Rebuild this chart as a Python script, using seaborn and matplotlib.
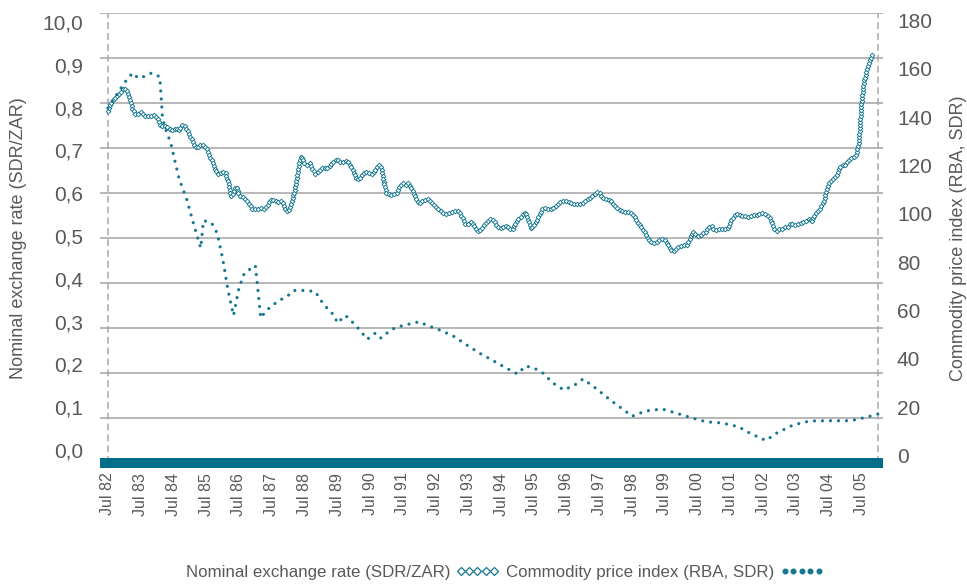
import numpy as np
import matplotlib
matplotlib.use('Agg')
import matplotlib.pyplot as plt
from matplotlib.lines import Line2D
import seaborn as sns

# diamond series, monthly from Jul 82 (left axis)
ner = [0.782, 0.798, 0.807, 0.812, 0.819, 0.825, 0.833, 0.827, 0.807, 0.787, 0.776, 0.776,
       0.780, 0.775, 0.770, 0.771, 0.772, 0.774, 0.768, 0.751, 0.747, 0.750, 0.746, 0.741,
       0.740, 0.744, 0.738, 0.751, 0.749, 0.741, 0.727, 0.718, 0.703, 0.700, 0.707, 0.707,
       0.701, 0.687, 0.672, 0.658, 0.644, 0.642, 0.647, 0.647, 0.625, 0.593, 0.601, 0.614,
       0.596, 0.592, 0.588, 0.581, 0.573, 0.564, 0.564, 0.564, 0.566, 0.564, 0.568, 0.578,
       0.587, 0.584, 0.579, 0.583, 0.577, 0.561, 0.560, 0.570, 0.596, 0.625, 0.664, 0.682,
       0.666, 0.663, 0.666, 0.653, 0.642, 0.647, 0.653, 0.657, 0.654, 0.658, 0.666, 0.673,
       0.676, 0.670, 0.669, 0.672, 0.670, 0.658, 0.647, 0.630, 0.630, 0.640, 0.646, 0.647,
       0.645, 0.642, 0.653, 0.662, 0.660, 0.625, 0.598, 0.599, 0.596, 0.598, 0.601, 0.616,
       0.622, 0.618, 0.622, 0.613, 0.600, 0.585, 0.577, 0.581, 0.585, 0.587, 0.583, 0.576,
       0.569, 0.564, 0.560, 0.556, 0.554, 0.556, 0.558, 0.560, 0.560, 0.556, 0.542, 0.531,
       0.531, 0.536, 0.529, 0.518, 0.515, 0.521, 0.531, 0.538, 0.542, 0.541, 0.533, 0.523,
       0.521, 0.527, 0.527, 0.521, 0.518, 0.529, 0.542, 0.546, 0.553, 0.558, 0.540, 0.520,
       0.529, 0.538, 0.551, 0.564, 0.567, 0.564, 0.564, 0.566, 0.572, 0.577, 0.581, 0.583,
       0.583, 0.579, 0.576, 0.574, 0.576, 0.576, 0.579, 0.582, 0.587, 0.591, 0.597, 0.602,
       0.600, 0.591, 0.587, 0.587, 0.584, 0.576, 0.570, 0.564, 0.561, 0.558, 0.558, 0.557,
       0.555, 0.547, 0.535, 0.527, 0.519, 0.508, 0.498, 0.491, 0.489, 0.490, 0.495, 0.497,
       0.495, 0.487, 0.474, 0.470, 0.473, 0.480, 0.483, 0.484, 0.485, 0.496, 0.514, 0.508,
       0.505, 0.507, 0.510, 0.514, 0.524, 0.527, 0.519, 0.518, 0.521, 0.521, 0.520, 0.521,
       0.535, 0.547, 0.554, 0.552, 0.548, 0.549, 0.547, 0.547, 0.549, 0.551, 0.553, 0.555,
       0.555, 0.552, 0.548, 0.538, 0.521, 0.516, 0.520, 0.521, 0.524, 0.525, 0.533, 0.531,
       0.529, 0.531, 0.533, 0.536, 0.539, 0.543, 0.536, 0.554, 0.560, 0.566, 0.581, 0.599,
       0.618, 0.630, 0.632, 0.638, 0.658, 0.661, 0.662, 0.673, 0.677, 0.679, 0.684, 0.710,
       0.799, 0.853, 0.872, 0.892, 0.910]
ner_month = np.arange(len(ner))

# dotted series (right axis), months after Jul 82
cpi_month = [0, 3, 6, 9, 11, 12, 14, 16, 19, 20, 21, 23, 26, 29, 31, 34, 35, 38, 40, 42,
             44, 46, 48, 50, 54, 56, 58, 62, 66, 68, 73, 76, 78, 81, 83, 84, 87, 89, 92, 95,
             98, 100, 104, 108, 112, 114, 117, 122, 127, 131, 136, 141, 145, 150, 153, 156,
             159, 163, 167, 171, 174, 178, 184, 189, 192, 197, 203, 208, 214, 219, 225, 231,
             235, 241, 245, 251, 257, 263, 272, 277, 282]
cpi = [142, 147, 152, 156, 154, 154, 155, 156, 154.5, 138, 134, 128, 114, 105, 97, 86, 97, 96, 92, 82,
       69, 59, 70, 76, 79, 58, 61, 64.5, 67, 69, 69, 68.5, 65, 61, 59, 56, 59, 57, 53.5, 49.5,
       52, 50, 53.5, 55, 56, 56.5, 55, 53, 50.5, 47.5, 44, 41, 38.5, 35.6, 38.8, 38,
       36.3, 32, 29.2, 31.2, 33.6, 30.5, 25.2, 21.2, 18.7, 20.8, 21.6, 20, 18, 16.5, 16, 14.5,
       12, 9, 12, 15.2, 16.8, 16.9, 16.9, 18.1, 19.6]

xtick_month = list(range(0, 277, 12))
xtick_labels = ['Jul 82', 'Jul 83', 'Jul 84', 'Jul 85', 'Jul 86', 'Jul 87', 'Jul 88', 'Jul 89',
                'Jul 90', 'Jul 91', 'Jul 92', 'Jul 93', 'Jul 94', 'Jul 95', 'Jul 96', 'Jul 97',
                'Jul 98', 'Jul 99', 'Jul 00', 'Jul 01', 'Jul 02', 'Jul 03', 'Jul 04', 'Jul 05']
left_labels = ['0,0', '0,1', '0,2', '0,3', '0,4', '0,5', '0,6', '0,7', '0,8', '0,9', '10,0']
right_labels = ['0', '20', '40', '60', '80', '100', '120', '140', '160', '180']

TEAL = '#157790'
BAND = '#006e89'
TXT = '#595959'
GRID = '#a3a3a3'

sns.set_style('white')
plt.rcParams['font.family'] = ['Liberation Sans', 'DejaVu Sans']


def chain(ax, x, y, step):
    # positions spaced evenly along the drawn path (pixels), like a patterned stroke
    xy = ax.transData.transform(np.column_stack([x, y]))
    s = np.r_[0, np.cumsum(np.hypot(*np.diff(xy, axis=0).T))]
    t = np.arange(0, s[-1] + 1e-9, step)
    pts = np.column_stack([np.interp(t, s, xy[:, 0]), np.interp(t, s, xy[:, 1])])
    return ax.transData.inverted().transform(pts).T


fig = plt.figure(figsize=(9.67, 5.88), dpi=100)
ax = fig.add_axes([100 / 967, 125 / 588, 783 / 967, 450 / 588])
ax2 = ax.twinx()
ax.set_xlim(-2.9, 283.9)
ax.set_ylim(0, 1)
ax2.set_ylim(0, 180)

# grid on the true values, labels sit slightly off them as in the original
ax.set_yticks(np.arange(0, 1.01, 0.1))
ax.set_yticklabels([])
ax.set_yticks(np.linspace(0.029, 0.980, 11), minor=True)
ax.set_yticklabels(left_labels, minor=True)
ax.tick_params(axis='y', which='both', length=0)
ax.tick_params(axis='y', which='minor', pad=12, labelsize=15, labelcolor=TXT)
ax.grid(axis='y', which='major', color=GRID, lw=1.1)
ax.grid(axis='x', visible=False)

ax2.set_yticks(np.linspace(3.0, 177.0, 10))
ax2.set_yticklabels(right_labels)
ax2.tick_params(axis='y', length=0, pad=10, labelsize=15, labelcolor=TXT)
ax2.grid(False)

ax.set_xticks(xtick_month)
ax.set_xticklabels(xtick_labels, rotation=90)
ax.tick_params(axis='x', length=0, pad=7, labelsize=11.5, labelcolor=TXT)

for a in (ax, ax2):
    for sp in a.spines.values():
        sp.set_visible(False)
ax.spines['bottom'].set_visible(True)
ax.spines['bottom'].set_color(BAND)
ax.spines['bottom'].set_linewidth(7.2)
ax.spines['bottom'].set_capstyle('butt')
ax.spines['bottom'].set_zorder(5)

for xv in (ner_month[0], cpi_month[-1]):
    ax.axvline(xv, color='#a8a8a8', lw=1.1, linestyle=(0, (4.5, 2.6)), zorder=1)

sns.lineplot(x=cpi_month, y=cpi, ax=ax2, color=TEAL, lw=2.3, linestyle=(0, (0.01, 2.5)),
             dash_capstyle='round', legend=False)

cx, cy = chain(ax, ner_month, ner, 3.0)
ax.plot(cx, cy, ls='none', marker='D', ms=2.4, mfc='white', mec=TEAL, mew=0.65, zorder=3)

ax.set_ylabel('Nominal exchange rate (SDR/ZAR)', fontsize=13, color=TXT)
ax.yaxis.set_label_coords(-0.093, 0.5)
ax2.set_ylabel('Commodity price index (RBA, SDR)', fontsize=13, color=TXT)
ax2.yaxis.set_label_coords(1.086, 0.5)

h1 = Line2D([], [], ls='none', marker='D', ms=3.8, mfc='white', mec=TEAL, mew=0.9)
h2 = Line2D([], [], ls='none', marker='o', ms=3.3, color=TEAL)
fig.legend([h1, h2], ['Nominal exchange rate (SDR/ZAR)', 'Commodity price index (RBA, SDR)'],
           loc='center', bbox_to_anchor=(0.522, 0.026), ncol=2, frameon=False,
           markerfirst=False, numpoints=5, handlelength=2.6, handletextpad=0.3,
           columnspacing=0.4, fontsize=12.2, labelcolor=TXT)

fig.savefig('out.png', dpi=100)
